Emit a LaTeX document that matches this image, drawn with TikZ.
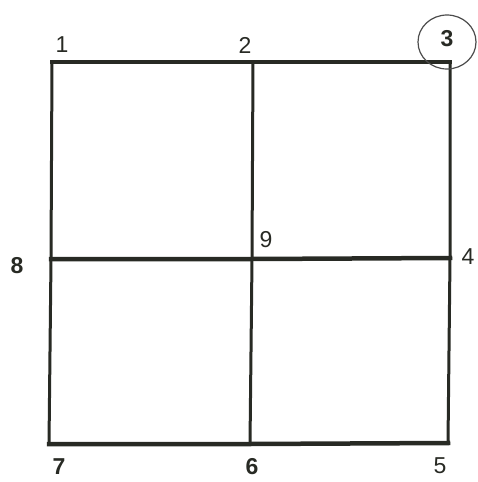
\documentclass[tikz,border=0pt]{standalone}
\usepackage{fontspec}
\setmainfont{Liberation Sans}
\usepackage{tikz}

\definecolor{ink}{RGB}{40,42,36}
\tikzset{
  numlabel/.style={font=\fontsize{23}{27}\selectfont, inner sep=0pt, text=ink},
  hline/.style={draw=ink, line width=4.5pt, line cap=rect},
  vline/.style={draw=ink, line width=3pt}
}

\begin{document}
\begin{tikzpicture}[x=1pt,y=-1pt]
  \useasboundingbox (0,0) rectangle (477,482);
  % grid points
  \coordinate (p1) at (52,62);  \coordinate (p2) at (253,62);  \coordinate (p3) at (450,62);
  \coordinate (p8) at (51,259); \coordinate (p9) at (252,259); \coordinate (p4) at (450,258);
  \coordinate (p7) at (49,444); \coordinate (p6) at (250,444); \coordinate (p5) at (448,443);
  % vertical lines
  \draw[vline] (p1) -- (p8) -- (p7);
  \draw[vline] (p2) -- (p9) -- (p6);
  \draw[vline] (p3) -- (p4) -- (p5);
  % horizontal lines
  \draw[hline] (p1) -- (p2) -- (p3);
  \draw[hline] (p8) -- (p9) -- (p4);
  \draw[hline] (p7) -- (p6) -- (p5);
  % labels
  \node[numlabel] (n1) at (62,45) {1};
  \node[numlabel] (n2) at (245,45) {2};
  \node[numlabel] (n3) at (447,39) {\textbf{3}};
  \node[numlabel] (n4) at (468,257) {4};
  \node[numlabel] (n5) at (440,466) {5};
  \node[numlabel] (n6) at (252,467) {\textbf{6}};
  \node[numlabel] (n7) at (59,467) {\textbf{7}};
  \node[numlabel] (n8) at (17,266) {\textbf{8}};
  \node[numlabel] (n9) at (266,240) {9};
  \draw[line width=1.2pt, black!70] (447,42) ellipse (29 and 27);
\end{tikzpicture}
\end{document}
